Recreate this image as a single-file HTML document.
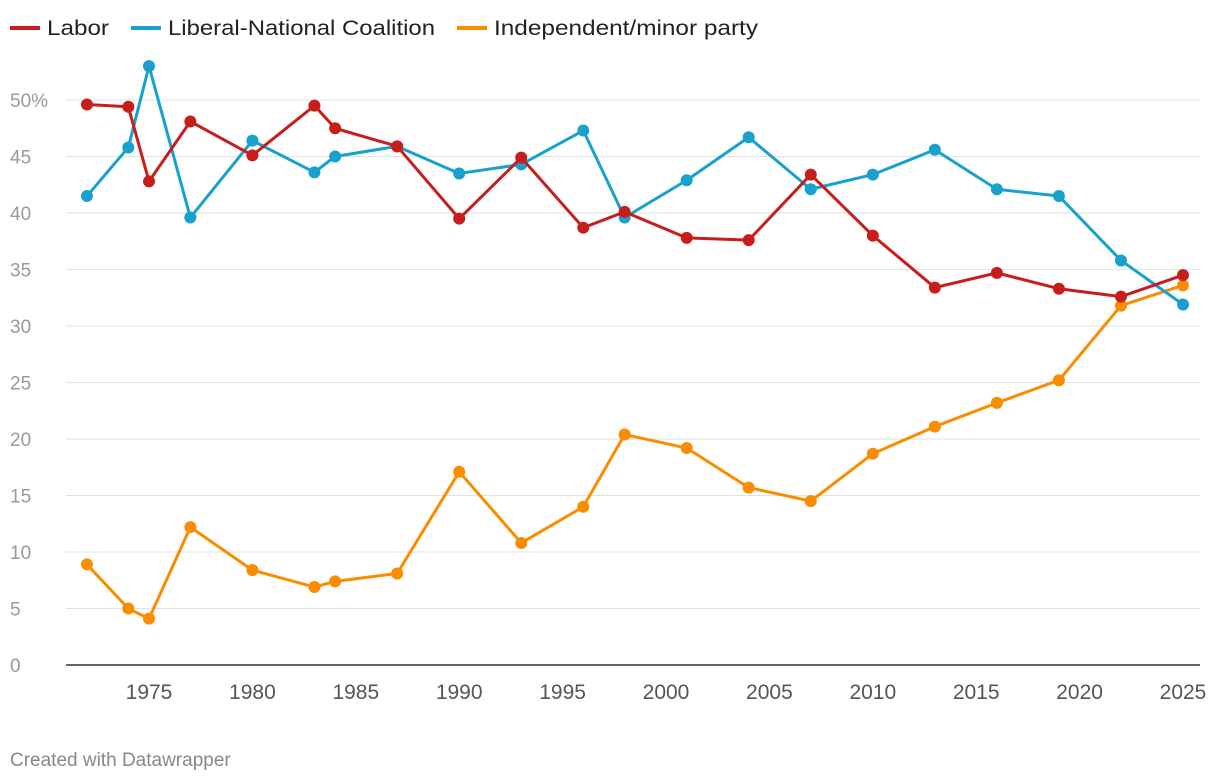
<!DOCTYPE html>
<html><head><meta charset="utf-8"><style>
body{margin:0;background:#fff;font-family:"Liberation Sans",sans-serif;}
svg{display:block}
</style></head><body>
<svg id="chart" width="1220" height="782">
<g id="legend">
<g><line x1="10" y1="28" x2="40" y2="28" stroke="#c71e1d" stroke-width="4"/><text x="47" y="35" font-size="21" fill="#222" textLength="62" lengthAdjust="spacingAndGlyphs">Labor</text></g>
<g><line x1="131" y1="28" x2="161" y2="28" stroke="#18a1cd" stroke-width="4"/><text x="168" y="35" font-size="21" fill="#222" textLength="267" lengthAdjust="spacingAndGlyphs">Liberal-National Coalition</text></g>
<g><line x1="457" y1="28" x2="487" y2="28" stroke="#fa8c00" stroke-width="4"/><text x="494" y="35" font-size="21" fill="#222" textLength="264" lengthAdjust="spacingAndGlyphs">Independent/minor party</text></g>
</g>
<g id="grid"></g><g id="xaxis"></g><g id="series"></g>
<text x="10" y="766" font-size="19" fill="#888">Created with Datawrapper</text>
</svg>
<script>
const years=[1972,1974,1975,1977,1980,1983,1984,1987,1990,1993,1996,1998,2001,2004,2007,2010,2013,2016,2019,2022,2025];
const labor=[49.6,49.4,42.8,48.1,45.1,49.5,47.5,45.9,39.5,44.9,38.7,40.1,37.8,37.6,43.4,38.0,33.4,34.7,33.3,32.6,34.5];
const coalition=[41.5,45.8,53.0,39.6,46.4,43.6,45.0,45.9,43.5,44.3,47.3,39.6,42.9,46.7,42.1,43.4,45.6,42.1,41.5,35.8,31.9];
const independent=[8.9,5.0,4.1,12.2,8.4,6.9,7.4,8.1,17.1,10.8,14.0,20.4,19.2,15.7,14.5,18.7,21.1,23.2,25.2,31.8,33.6];
const yTicks=[0,5,10,15,20,25,30,35,40,45,50];
const xTicks=[1975,1980,1985,1990,1995,2000,2005,2010,2015,2020,2025];
const NS="http://www.w3.org/2000/svg";
const xs=y=>149+(y-1975)*(1183-149)/50;
const ys=v=>665-v*11.3;
function mk(t,a,p){const e=document.createElementNS(NS,t);for(const k in a)e.setAttribute(k,a[k]);p.appendChild(e);return e;}
const grid=document.getElementById('grid');
yTicks.forEach(v=>{
 if(v>0){const l=mk('line',{x1:66,x2:1200,y1:ys(v),y2:ys(v),stroke:'#e2e2e2','stroke-width':1},grid);
 
 }
 const t=mk('text',{x:10,y:ys(v)+7,'font-size':19,fill:'#999'},grid);
 t.textContent=v===50?'50%':String(v);
 
 
});
const xa=document.getElementById('xaxis');
const base=mk('line',{x1:66,x2:1200,y1:665,y2:665,stroke:'#333','stroke-width':1.5},xa);


xTicks.forEach(y=>{
 const t=mk('text',{x:xs(y),y:699,'font-size':21,fill:'#555','text-anchor':'middle'},xa);
 t.textContent=y;
 
 
});
const ser=document.getElementById('series');
[[independent,'#fa8c00','independent'],[coalition,'#18a1cd','coalition'],[labor,'#c71e1d','labor']].forEach(([d,c,n])=>{
 const g=mk('g',{},ser);
 
 
 const p=mk('polyline',{points:d.map((v,i)=>xs(years[i])+','+ys(v)).join(' '),fill:'none',stroke:c,'stroke-width':3,'stroke-linejoin':'round'},g);
 
 
 d.forEach((v,i)=>{
  const ci=mk('circle',{cx:xs(years[i]),cy:ys(v),r:6,fill:c},g);
  
  
 });
});
</script>
</body></html>
